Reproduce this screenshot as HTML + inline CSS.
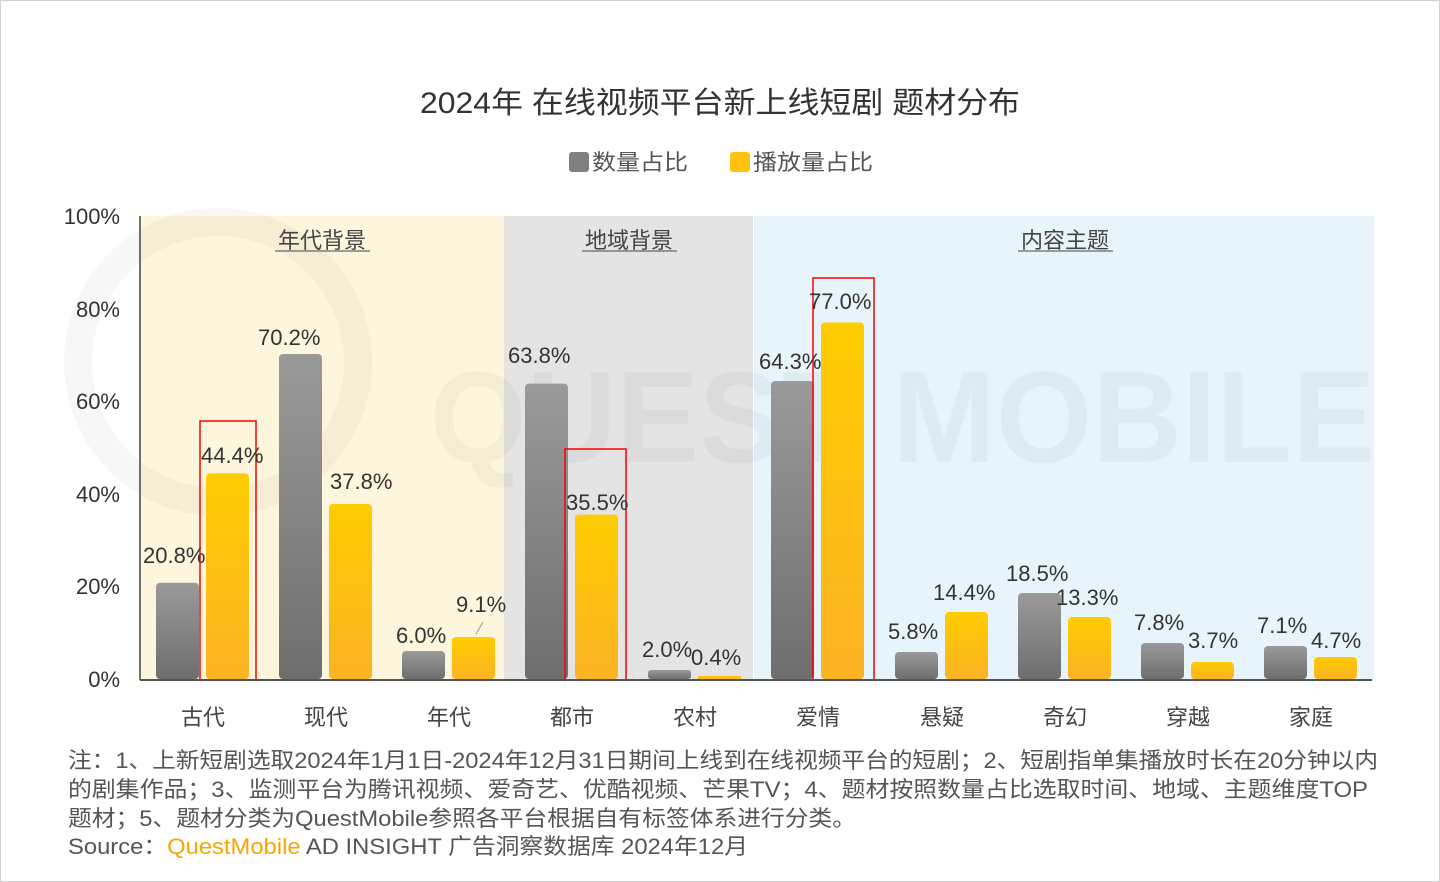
<!DOCTYPE html>
<html><head><meta charset="utf-8"><style>
html,body{margin:0;padding:0;background:#fff}
svg{display:block}
text{font-family:"Liberation Sans","Noto Sans CJK SC",sans-serif}
</style></head><body>
<svg width="1440" height="882" viewBox="0 0 1440 882" xmlns="http://www.w3.org/2000/svg">
<defs>
<linearGradient id="g" x1="0" y1="0" x2="0" y2="1"><stop offset="0" stop-color="#9a9a9a"/><stop offset="1" stop-color="#6e6e6e"/></linearGradient>
<linearGradient id="y" x1="0" y1="0" x2="0" y2="1"><stop offset="0" stop-color="#ffcc00"/><stop offset="1" stop-color="#fbb324"/></linearGradient>
</defs>
<rect x="0.5" y="0.5" width="1439" height="881" fill="#fff" stroke="#d0d0d0"/>
<text x="420" y="113" font-size="30" fill="#333" textLength="600" lengthAdjust="spacingAndGlyphs">2024年 在线视频平台新上线短剧 题材分布</text>
<rect x="569" y="152" width="20" height="20" rx="3" fill="#808080"/>
<text x="592" y="170" font-size="22" fill="#555" textLength="96" lengthAdjust="spacingAndGlyphs">数量占比</text>
<rect x="730" y="152" width="20" height="20" rx="3" fill="#ffc20e"/>
<text x="753" y="170" font-size="22" fill="#555" textLength="120" lengthAdjust="spacingAndGlyphs">播放量占比</text>
<rect x="140" y="216" width="364" height="463" fill="#fdf6dc"/>
<rect x="504" y="216" width="249" height="463" fill="#e4e4e4"/>
<rect x="754" y="216" width="620" height="463" fill="#e7f4fb"/>
<text x="430" y="462" font-size="130" font-weight="bold" fill="#000" fill-opacity="0.035" textLength="945" lengthAdjust="spacingAndGlyphs">QUEST MOBILE</text>
<circle cx="218" cy="362" r="140" fill="none" stroke="#000" stroke-opacity="0.03" stroke-width="28"/>
<text x="322" y="248" font-size="22" text-anchor="middle" fill="#444">年代背景</text>
<line x1="275" y1="251" x2="370" y2="251" stroke="#444"/>
<text x="629" y="248" font-size="22" text-anchor="middle" fill="#444">地域背景</text>
<line x1="582" y1="251" x2="677" y2="251" stroke="#444"/>
<text x="1065" y="248" font-size="22" text-anchor="middle" fill="#444">内容主题</text>
<line x1="1018" y1="251" x2="1113" y2="251" stroke="#444"/>
<g font-size="22" fill="#333" text-anchor="end">
<text x="120" y="224">100%</text><text x="120" y="317">80%</text><text x="120" y="409">60%</text><text x="120" y="502">40%</text><text x="120" y="594">20%</text><text x="120" y="687">0%</text>
</g>
<g>
<rect x="156" y="582.7" width="43" height="96.3" rx="4" fill="url(#g)"/><rect x="206" y="473.4" width="43" height="205.6" rx="4" fill="url(#y)"/>
<rect x="279" y="354" width="43" height="325" rx="4" fill="url(#g)"/><rect x="329" y="504" width="43" height="175" rx="4" fill="url(#y)"/>
<rect x="402" y="651" width="43" height="28" rx="4" fill="url(#g)"/><rect x="452" y="637" width="43" height="42" rx="4" fill="url(#y)"/>
<rect x="525" y="383.6" width="43" height="295.4" rx="4" fill="url(#g)"/><rect x="575" y="514.6" width="43" height="164.4" rx="4" fill="url(#y)"/>
<rect x="648" y="670" width="43" height="9" rx="3" fill="url(#g)"/><rect x="698" y="676" width="43" height="3" fill="url(#y)"/>
<rect x="771" y="381" width="43" height="298" rx="4" fill="url(#g)"/><rect x="821" y="322.5" width="43" height="356.5" rx="4" fill="url(#y)"/>
<rect x="895" y="652" width="43" height="27" rx="4" fill="url(#g)"/><rect x="945" y="612" width="43" height="67" rx="4" fill="url(#y)"/>
<rect x="1018" y="593" width="43" height="86" rx="4" fill="url(#g)"/><rect x="1068" y="617" width="43" height="62" rx="4" fill="url(#y)"/>
<rect x="1141" y="643" width="43" height="36" rx="4" fill="url(#g)"/><rect x="1191" y="662" width="43" height="17" rx="4" fill="url(#y)"/>
<rect x="1264" y="646" width="43" height="33" rx="4" fill="url(#g)"/><rect x="1314" y="657" width="43" height="22" rx="4" fill="url(#y)"/>
</g>
<line x1="476" y1="634" x2="483" y2="622" stroke="#999"/>
<g fill="none" stroke="#ff0000" stroke-width="1.5">
<rect x="200" y="421" width="56" height="259"/>
<rect x="565" y="449" width="61" height="231"/>
<rect x="813" y="278" width="61" height="402"/>
</g>
<line x1="140" y1="216" x2="140" y2="680" stroke="#444" stroke-width="1.5"/>
<line x1="140" y1="680" x2="1372" y2="680" stroke="#555" stroke-width="2"/>
<g font-size="22" fill="#333">
<text x="143" y="563">20.8%</text><text x="201" y="463">44.4%</text>
<text x="258" y="345">70.2%</text><text x="330" y="489">37.8%</text>
<text x="396" y="643">6.0%</text><text x="456" y="612">9.1%</text>
<text x="508" y="363">63.8%</text><text x="566" y="510">35.5%</text>
<text x="642" y="657">2.0%</text><text x="691" y="665">0.4%</text>
<text x="759" y="369">64.3%</text><text x="809" y="309">77.0%</text>
<text x="888" y="639">5.8%</text><text x="933" y="600">14.4%</text>
<text x="1006" y="581">18.5%</text><text x="1056" y="605">13.3%</text>
<text x="1134" y="630">7.8%</text><text x="1188" y="648">3.7%</text>
<text x="1257" y="633">7.1%</text><text x="1311" y="648">4.7%</text>
</g>
<g font-size="22" fill="#444" text-anchor="middle">
<text x="203" y="725">古代</text><text x="326" y="725">现代</text><text x="449" y="725">年代</text><text x="572" y="725">都市</text><text x="695" y="725">农村</text><text x="818" y="725">爱情</text><text x="942" y="725">悬疑</text><text x="1065" y="725">奇幻</text><text x="1188" y="725">穿越</text><text x="1311" y="725">家庭</text>
</g>
<g font-size="22" fill="#555">
<text x="68" y="768" textLength="1310" lengthAdjust="spacingAndGlyphs">注：1、上新短剧选取2024年1月1日-2024年12月31日期间上线到在线视频平台的短剧；2、短剧指单集播放时长在20分钟以内</text>
<text x="68" y="797" textLength="1300" lengthAdjust="spacingAndGlyphs">的剧集作品；3、监测平台为腾讯视频、爱奇艺、优酷视频、芒果TV；4、题材按照数量占比选取时间、地域、主题维度TOP</text>
<text x="68" y="826" textLength="788" lengthAdjust="spacingAndGlyphs">题材；5、题材分类为QuestMobile参照各平台根据自有标签体系进行分类。</text>
<text x="68" y="854" textLength="680" lengthAdjust="spacingAndGlyphs">Source：<tspan fill="#f7a600">QuestMobile</tspan> AD INSIGHT 广告洞察数据库 2024年12月</text>
</g>
</svg>
</body></html>
